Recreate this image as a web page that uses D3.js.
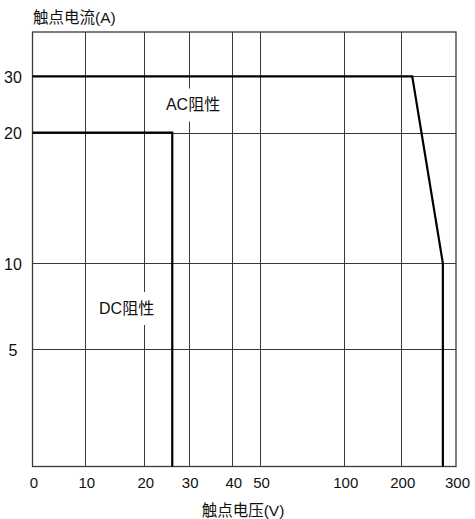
<!DOCTYPE html>
<html>
<head>
<meta charset="utf-8">
<script src="https://cdn.jsdelivr.net/npm/d3@7/dist/d3.min.js"></script>
<style>
html,body{margin:0;padding:0;background:#fff;}
svg{display:block;font-family:Arial,"Liberation Sans","Noto Sans CJK SC",sans-serif;}
</style>
</head>
<body>
<svg id="chart" width="475" height="519"></svg>
<script>
// ---- data ----
const xTickValues = [0, 10, 20, 30, 40, 50, 100, 200, 300];
const xTickLabels = ["0", "10", "20", "30", "40", "50", "100", "200", "300"];
const yDomainValues = [0, 5, 10, 20, 30, 40];
const yTickValues = [5, 10, 20, 30];
const yTickLabels = ["5", "10", "20", "30"];
const acVoltage = [0, 220, 276, 276];
const acCurrent = [30, 30, 10, 0];
const dcVoltage = [0, 26.3, 26.3];
const dcCurrent = [20, 20, 0];
const acLabel = {text: "AC阻性", v: 31, a: 25};
const dcLabel = {text: "DC阻性", v: 17, a: 7.4};
const yTitle = "触点电流(A)";
const xTitle = "触点电压(V)";

// ---- layout ----
const svg = d3.select("#chart");
const pLeft = 32.5, pRight = 456, pTop = 32, pBottom = 466.5;

// piecewise (non-uniform) axes as drawn in the reference
const x = d3.scaleLinear()
  .domain(xTickValues)
  .range([pLeft, 85.3, 144.3, 188.7, 232.3, 260, 344.3, 401.3, pRight]);
const y = d3.scaleLinear()
  .domain(yDomainValues)
  .range([pBottom, 349.3, 263.3, 132.7, 76.3, pTop]);

const gridColor = "#3a3a3a";

// vertical grid
svg.append("g").selectAll("line")
  .data(xTickValues.slice(1, -1))
  .join("line")
  .attr("x1", d => Math.round(x(d)) + 0.5).attr("x2", d => Math.round(x(d)) + 0.5)
  .attr("y1", pTop).attr("y2", pBottom)
  .attr("stroke", gridColor).attr("stroke-width", 1);

// horizontal grid
svg.append("g").selectAll("line")
  .data(yTickValues)
  .join("line")
  .attr("y1", d => Math.round(y(d)) + 0.5).attr("y2", d => Math.round(y(d)) + 0.5)
  .attr("x1", pLeft).attr("x2", pRight)
  .attr("stroke", gridColor).attr("stroke-width", 1);

// frame
svg.append("rect")
  .attr("x", pLeft).attr("y", pTop)
  .attr("width", pRight - pLeft).attr("height", pBottom - pTop)
  .attr("fill", "none").attr("stroke", gridColor).attr("stroke-width", 1.3);

// curves
const line = d3.line().x(d => x(d[0])).y(d => y(d[1]));
svg.append("path")
  .datum(acVoltage.map((v, i) => [v, acCurrent[i]]))
  .attr("d", line).attr("fill", "none")
  .attr("stroke", "#000").attr("stroke-width", 2.2);
svg.append("path")
  .datum(dcVoltage.map((v, i) => [v, dcCurrent[i]]))
  .attr("d", line).attr("fill", "none")
  .attr("stroke", "#000").attr("stroke-width", 2.2);

// in-plot labels with white backing
[acLabel, dcLabel].forEach(l => {
  const cx = x(l.v), cy = y(l.a);
  svg.append("rect")
    .attr("x", cx - 30).attr("y", cy - 16)
    .attr("width", 60).attr("height", 33)
    .attr("fill", "#fff");
  svg.append("text")
    .attr("x", cx).attr("y", cy)
    .attr("text-anchor", "middle").attr("dominant-baseline", "central")
    .attr("font-size", 16).attr("fill", "#111")
    .text(l.text);
});

// x tick labels
svg.append("g").selectAll("text")
  .data(xTickValues)
  .join("text")
  .attr("x", d => x(d) + 1.5).attr("y", 487.5)
  .attr("text-anchor", "middle")
  .attr("font-size", 15).attr("fill", "#111")
  .text((d, i) => xTickLabels[i]);

// y tick labels
svg.append("g").selectAll("text")
  .data(yTickValues)
  .join("text")
  .attr("x", 13).attr("y", d => y(d) + 1)
  .attr("text-anchor", "middle").attr("dominant-baseline", "central")
  .attr("font-size", 16).attr("fill", "#111")
  .text((d, i) => yTickLabels[i]);

// axis titles
svg.append("text")
  .attr("x", 33).attr("y", 23)
  .attr("font-size", 15.5).attr("fill", "#111")
  .text(yTitle);
svg.append("text")
  .attr("x", 243).attr("y", 516)
  .attr("text-anchor", "middle")
  .attr("font-size", 15.5).attr("fill", "#111")
  .text(xTitle);
</script>
</body>
</html>
